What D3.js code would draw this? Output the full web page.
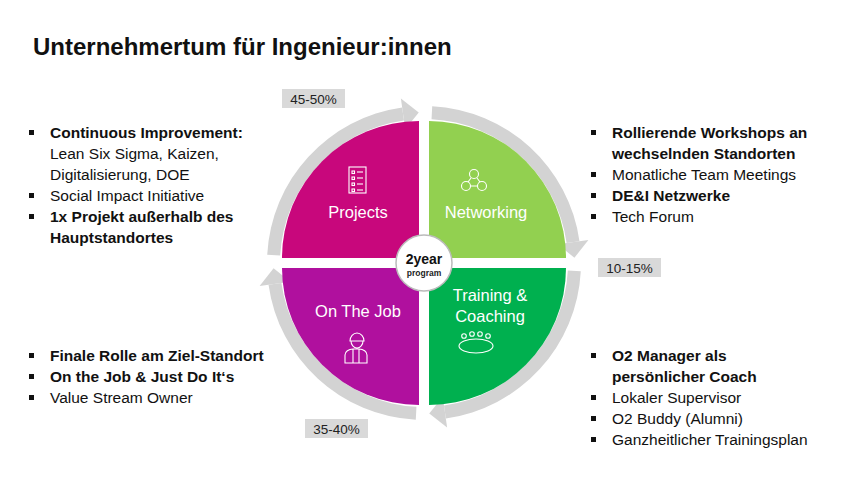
<!DOCTYPE html><html><head><meta charset="utf-8"><script src="https://cdn.jsdelivr.net/npm/d3@7"></script>
<style>body{margin:0;background:#fff}</style></head><body><svg id="c" width="852" height="479"></svg>
<script>
const title = "Unternehmertum für Ingenieur:innen";
const quadrants = ["Projects","Networking","Training & Coaching","On The Job"];
const quadColors = ["#C8077C","#92D050","#00B04F","#B0109E"];
const percents = ["45-50%","10-15%","35-40%"];
const listTL = [["Continuous Improvement:",1],["Lean Six Sigma, Kaizen,",0,1],["Digitalisierung, DOE",0,1],["Social Impact Initiative",0],["1x Projekt außerhalb des",1],["Hauptstandortes",1,1]];
const listTR = [["Rollierende Workshops an",1],["wechselnden Standorten",1,1],["Monatliche Team Meetings",0],["DE&I Netzwerke",1],["Tech Forum",0]];
const listBL = [["Finale Rolle am Ziel-Standort",1],["On the Job & Just Do It‘s",1],["Value Stream Owner",0]];
const listBR = [["O2 Manager als",1],["persönlicher Coach",1,1],["Lokaler Supervisor",0],["O2 Buddy (Alumni)",0],["Ganzheitlicher Trainingsplan",0]];

const svg = d3.select("#c");
const F = "Liberation Sans, Arial, sans-serif";
svg.append("text").attr("x",33).attr("y",55).attr("font-family",F).attr("font-weight","bold").attr("font-size",24).attr("fill","#111").text(title);

const cx=424, cy=263, R=137, g=5;
const G = svg.append("g").attr("transform",`translate(${cx},${cy})`);
// gray arrows
const rin=144, rout=157;
const ring = d3.arc().innerRadius(rin).outerRadius(rout);
const deg = Math.PI/180;
for(let i=0;i<4;i++){
  const a0 = (-90+i*90+3)*deg, a1=(i*90-8)*deg;
  G.append("path").attr("d",ring({startAngle:a0,endAngle:a1})).attr("fill","#d3d3d3");
  const pt=(r,a)=>[r*Math.sin(a),-r*Math.cos(a)];
  const tip=pt(150.5,(i*90-2)*deg), b1=pt(rin-9,a1), b2=pt(rout+9,a1);
  G.append("path").attr("d",`M${b1}L${tip}L${b2}Z`).attr("fill","#d3d3d3");
}
// quadrants
const qa = d3.arc().innerRadius(0).outerRadius(R);
const off=[[-g,-g],[g,-g],[g,g],[-g,g]];
const starts=[-90,0,90,180];
quadrants.forEach((q,i)=>{
  G.append("path").attr("transform",`translate(${off[i]})`).attr("d",qa({startAngle:starts[i]*deg,endAngle:(starts[i]+90)*deg})).attr("fill",quadColors[i]);
});
const lab=(x,y,lines)=>lines.forEach((l,j)=>G.append("text").attr("x",x).attr("y",y+j*21).attr("text-anchor","middle").attr("font-family",F).attr("font-size",16.5).attr("fill","#fff").text(l));
lab(-66,-45,["Projects"]); lab(62,-45,["Networking"]); lab(66,38,["Training &","Coaching"]); lab(-66,54,["On The Job"]);
// icons
const ic=G.append("g").attr("fill","none").attr("stroke","#fff").attr("stroke-width",1.1);
// projects clipboard
ic.append("rect").attr("x",-75).attr("y",-96).attr("width",17).attr("height",26);
for(let k=0;k<4;k++){ic.append("rect").attr("x",-72).attr("y",-92+k*6).attr("width",2.5).attr("height",2.5);ic.append("line").attr("x1",-67).attr("x2",-61).attr("y1",-91+k*6).attr("y2",-91+k*6);}
// network
[[50,-89],[42,-77],[58,-77]].forEach(p=>ic.append("circle").attr("cx",p[0]).attr("cy",p[1]).attr("r",4.5));
ic.append("path").attr("d","M47,-85L44,-81M53,-85L56,-81M46.5,-77H53.5");
// training table
ic.append("ellipse").attr("cx",52).attr("cy",83).attr("rx",17).attr("ry",7);
[[40,73],[48,71],[56,71],[64,73]].forEach(p=>ic.append("circle").attr("cx",p[0]).attr("cy",p[1]).attr("r",2.3));
// worker
ic.append("path").attr("d","M-74,78a7,8 0 0 1 14,0Z M-73,78a6,7 0 0 0 12,0 M-79,100v-8a8,6 0 0 1 8,-6h6a8,6 0 0 1 8,6v8Z M-71,86v14M-65,86v14");
// center
G.append("circle").attr("r",28).attr("fill","#fff").attr("stroke","#bbb").attr("stroke-width",1.5);
G.append("text").attr("y",1).attr("text-anchor","middle").attr("font-family",F).attr("font-weight","bold").attr("font-size",14).attr("fill","#111").text("2year");
G.append("text").attr("y",13).attr("text-anchor","middle").attr("font-family",F).attr("font-weight","bold").attr("font-size",8.5).attr("fill","#222").text("program");
// percent boxes
[[282,89],[598,258],[305,419]].forEach((p,i)=>{
  svg.append("rect").attr("x",p[0]).attr("y",p[1]).attr("width",63).attr("height",19).attr("fill","#d9d9d9");
  svg.append("text").attr("x",p[0]+31.5).attr("y",p[1]+14.5).attr("text-anchor","middle").attr("font-family",F).attr("font-size",13.5).attr("fill","#222").text(percents[i]);
});
// lists
function list(items,bx,y0){
  items.forEach((it,j)=>{
    const y=y0+j*21;
    if(!it[2]) svg.append("rect").attr("x",bx).attr("y",y-8).attr("width",5).attr("height",5).attr("fill","#111");
    svg.append("text").attr("x",bx+21).attr("y",y).attr("font-family",F).attr("font-size",15.5).attr("font-weight",it[1]?"bold":"normal").attr("fill","#111").text(it[0]);
  });
}
list(listTL,29,138); list(listTR,591,138); list(listBL,29,361); list(listBR,591,361);
</script></body></html>
